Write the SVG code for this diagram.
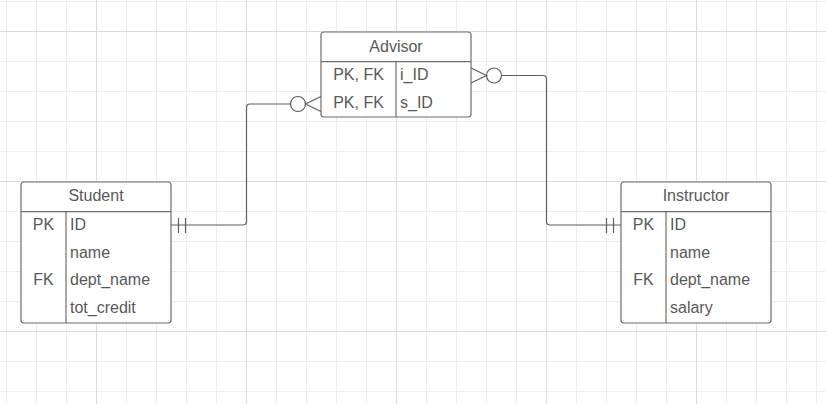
<svg xmlns="http://www.w3.org/2000/svg" width="826" height="404" viewBox="0 0 826 404">
  <defs>
    <pattern id="minor" x="6" y="1" width="30" height="30" patternUnits="userSpaceOnUse">
      <path d="M0.5 0V30M0 0.5H30" fill="none" stroke="#ececec" stroke-width="1"/>
    </pattern>
    <pattern id="major" x="96" y="31" width="150" height="150" patternUnits="userSpaceOnUse">
      <path d="M0.5 0V150M0 0.5H150" fill="none" stroke="#dcdcdc" stroke-width="1"/>
    </pattern>
  </defs>
  <style>
    .box { fill: #ffffff; stroke: #6e6e6e; stroke-width: 1.2; }
    .sep { stroke: #6e6e6e; stroke-width: 1.2; fill: none; }
    .conn { fill: none; stroke: #5f5f5f; stroke-width: 1.2; }
    .circ { fill: #ffffff; stroke: #5f5f5f; stroke-width: 1.2; }
    text { font-family: "Liberation Sans", Arial, sans-serif; font-size: 16px; fill: #595959; }
    .c { text-anchor: middle; }
  </style>
  <rect width="826" height="404" fill="#ffffff"/>
  <rect width="826" height="404" fill="url(#minor)"/>
  <rect width="826" height="404" fill="url(#major)"/>

  <g id="connectors">
    <!-- Student to Advisor -->
    <path class="conn" d="M171 225 H243 Q246.5 225 246.5 221.5 V107.5 Q246.5 104 250 104 H290.5"/>
    <line class="conn" x1="178.5" y1="218" x2="178.5" y2="233"/>
    <line class="conn" x1="185.5" y1="218" x2="185.5" y2="233"/>
    <circle class="circ" cx="298" cy="104" r="7.5"/>
    <path class="conn" d="M321 96.5 L305.5 104 L321 111.5"/>
    <!-- Advisor to Instructor -->
    <path class="conn" d="M501.5 75.5 H543 Q546.5 75.5 546.5 79 V221.5 Q546.5 225 550 225 H621"/>
    <line class="conn" x1="606.5" y1="218" x2="606.5" y2="233"/>
    <line class="conn" x1="613.5" y1="218" x2="613.5" y2="233"/>
    <circle class="circ" cx="494" cy="75.5" r="7.5"/>
    <path class="conn" d="M471 68 L486.5 75.5 L471 83"/>
  </g>

  <g id="advisor">
    <rect class="box" x="321" y="32" width="150" height="85" rx="3"/>
    <line class="sep" x1="321" y1="61.7" x2="471" y2="61.7"/>
    <line class="sep" x1="396" y1="61.7" x2="396" y2="117"/>
    <text class="c" x="396" y="51.5">Advisor</text>
    <text class="c" x="358.5" y="80">PK, FK</text>
    <text x="400" y="80">i_ID</text>
    <text class="c" x="358.5" y="107.5">PK, FK</text>
    <text x="400" y="107.5">s_ID</text>
  </g>

  <g id="student">
    <rect class="box" x="21" y="182" width="150" height="141" rx="3"/>
    <line class="sep" x1="21" y1="211.7" x2="171" y2="211.7"/>
    <line class="sep" x1="66" y1="211.7" x2="66" y2="323"/>
    <text class="c" x="96" y="201">Student</text>
    <text class="c" x="43.5" y="230">PK</text>
    <text x="70" y="230">ID</text>
    <text x="70" y="257.5">name</text>
    <text class="c" x="43.5" y="285.2">FK</text>
    <text x="70" y="285.2">dept_name</text>
    <text x="70" y="313">tot_credit</text>
  </g>

  <g id="instructor">
    <rect class="box" x="621" y="182" width="150" height="141" rx="3"/>
    <line class="sep" x1="621" y1="211.7" x2="771" y2="211.7"/>
    <line class="sep" x1="666" y1="211.7" x2="666" y2="323"/>
    <text class="c" x="696" y="201">Instructor</text>
    <text class="c" x="643.5" y="230">PK</text>
    <text x="670" y="230">ID</text>
    <text x="670" y="257.5">name</text>
    <text class="c" x="643.5" y="285.2">FK</text>
    <text x="670" y="285.2">dept_name</text>
    <text x="670" y="313">salary</text>
  </g>
</svg>
